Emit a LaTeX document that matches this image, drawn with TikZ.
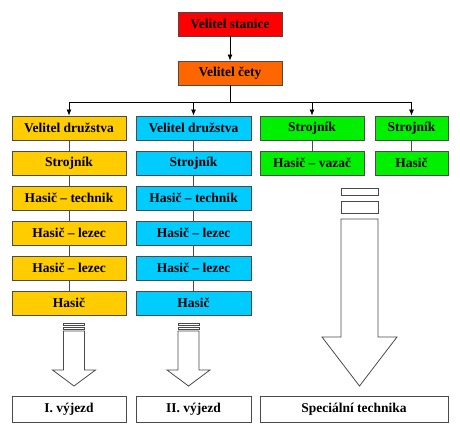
\documentclass[tikz,border=0pt]{standalone}
\usepackage{fontspec}
\setmainfont{Liberation Serif}
\usetikzlibrary{arrows.meta}
\usetikzlibrary{positioning}
\definecolor{stanred}{HTML}{FF0000}
\definecolor{cetaorange}{HTML}{FF6600}
\definecolor{druzyellow}{HTML}{FFCC00}
\definecolor{druzcyan}{HTML}{00CCFF}
\definecolor{techgreen}{HTML}{00F000}
\definecolor{rim}{HTML}{4A4A4A}

\tikzset{
	box/.style={draw=rim, line width=0.8pt, minimum height=24pt, inner sep=0pt,
		font=\fontsize{13.5}{15}\selectfont\bfseries},
	boxa/.style={box, fill=druzyellow, minimum width=114pt},
	boxb/.style={box, fill=druzcyan, minimum width=115pt},
	boxc/.style={box, fill=techgreen, minimum width=104pt},
	boxd/.style={box, fill=techgreen, minimum width=73pt},
	outbox/.style={box, fill=white, minimum height=26pt},
	link/.style={draw=rim, line width=0.8pt},
	feed/.style={draw=black, line width=0.8pt},
	block/.style={draw=rim, line width=0.8pt, fill=white, line join=miter}
}

\begin{document}
\begin{tikzpicture}[x=1pt, y=-1pt, >={Latex[length=6pt,width=5pt]}, node distance=35pt]
		\useasboundingbox (0,0) rectangle (460,433);
		% top of the chain
		\node[box, fill=stanred, minimum width=104pt] (stanice) at (230,24) {Velitel stanice};
		\node[box, fill=cetaorange, minimum width=104pt] (ceta) at (230,73) {Velitel čety};
		\draw[feed,->] (stanice) -- (ceta);
		
		% first unit
		\node[boxa] (a1) at (69,128) {Velitel družstva};
		\node[boxa] (a2) [below of=a1] {Strojník};
		\node[boxa] (a3) [below of=a2] {Hasič – technik};
		\node[boxa] (a4) [below of=a3] {Hasič – lezec};
		\node[boxa] (a5) [below of=a4] {Hasič – lezec};
		\node[boxa] (a6) [below of=a5] {Hasič};
		
		% second unit
		\node[boxb] (b1) at (193.5,128) {Velitel družstva};
		\node[boxb] (b2) [below of=b1] {Strojník};
		\node[boxb] (b3) [below of=b2] {Hasič – technik};
		\node[boxb] (b4) [below of=b3] {Hasič – lezec};
		\node[boxb] (b5) [below of=b4] {Hasič – lezec};
		\node[boxb] (b6) [below of=b5] {Hasič};
		
		% special technique
		\node[boxc] (c1) at (312,128) {Strojník};
		\node[boxc] (c2) [below of=c1] {Hasič – vazač};
		\node[boxd] (d1) at (411.5,128) {Strojník};
		\node[boxd] (d2) [below of=d1] {Hasič};
		
		% bus from the platoon leader
		\coordinate (bus) at (230,102);
		\draw[feed] (ceta) -- (bus);
		\draw[feed] (a1|-bus) -- (d1|-bus);
		\foreach \n in {a1,b1,c1,d1}
			\draw[feed,->] (\n|-bus) -- (\n);
		
		\foreach \col in {a,b}
			\foreach \i/\j in {1/2,2/3,3/4,4/5,5/6}
				\draw[link] (\col\i) -- (\col\j);
		\draw[link] (c1) -- (c2);
		\draw[link] (d1) -- (d2);
		
		% block arrows
		\foreach \cx in {74,188.5} {
			\draw[block] (\cx-10.5,323) rectangle (\cx+10.5,325.5);
			\draw[block] (\cx-10.5,327) rectangle (\cx+10.5,329.5);
			\draw[block] (\cx-10.5,331) -- (\cx+10.5,331) -- (\cx+10.5,370) -- (\cx+21.5,370)
				-- (\cx,386) -- (\cx-21.5,370) -- (\cx-10.5,370) -- cycle;
		}
		\draw[block] (341,188) rectangle (378,195);
		\draw[block] (341,201) rectangle (378,213);
		\draw[block] (341,219) -- (378,219) -- (378,337) -- (397,337)
			-- (359.5,386) -- (322,337) -- (341,337) -- cycle;
		
		% departures
		\node[outbox, minimum width=114pt] (out1) at (69,409) {I. výjezd};
		\node[outbox, minimum width=115pt] (out2) at (193.5,409) {II. výjezd};
		\node[outbox, minimum width=188pt] (out3) at (354,409) {Speciální technika};
	\end{tikzpicture}
\end{document}
